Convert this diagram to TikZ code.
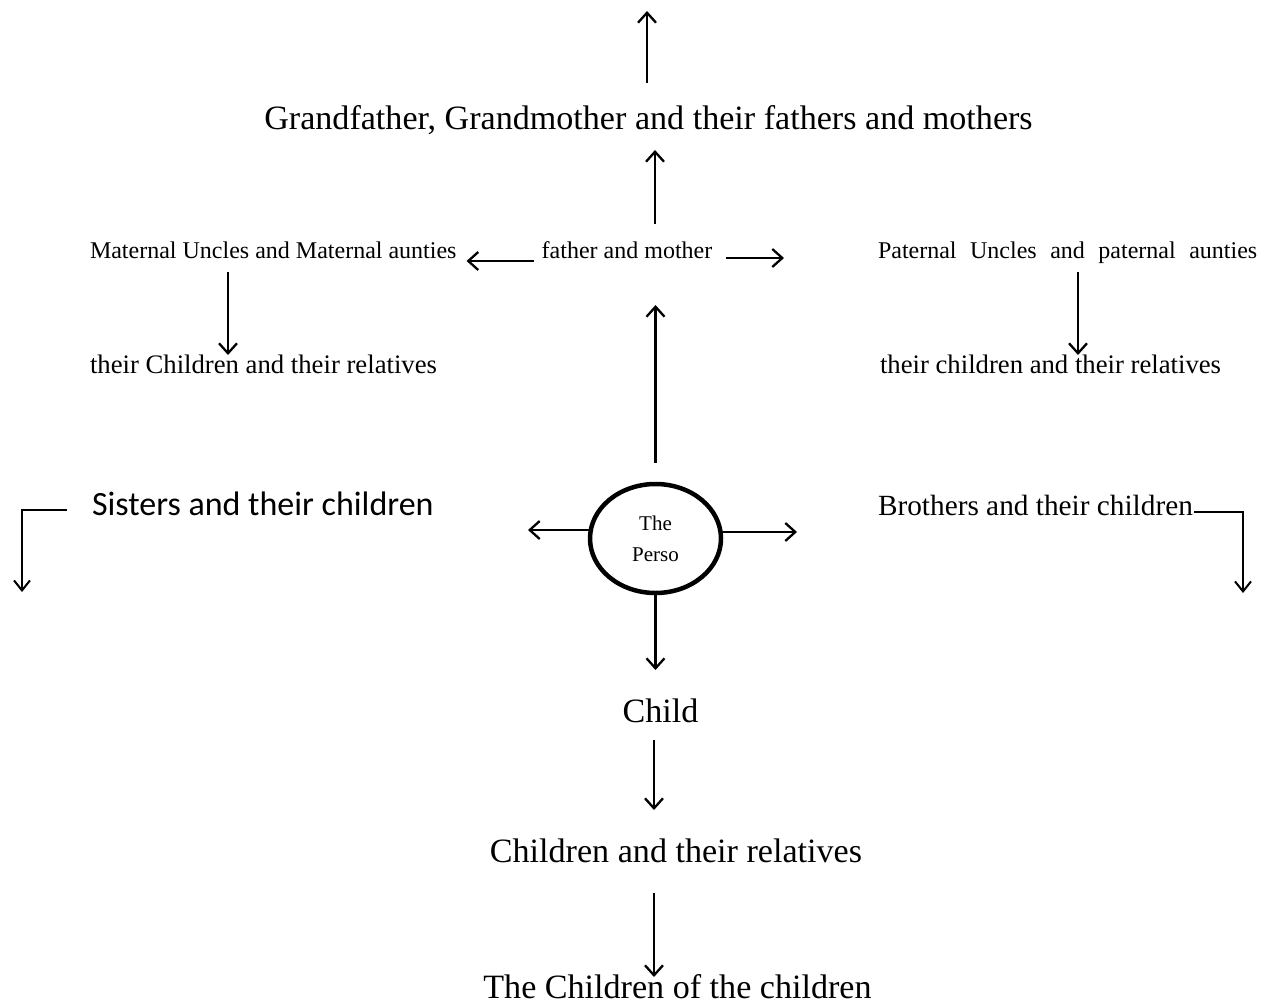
\documentclass[tikz,border=0pt]{standalone}
\usepackage{fontspec}
\setmainfont{Liberation Serif}
\newfontfamily\calib{Carlito}
\usetikzlibrary{arrows.meta,shapes.geometric}
\begin{document}
\begin{tikzpicture}[x=1pt,y=-1pt,
  every node/.style={inner sep=0pt, outer sep=0pt, text=black},
  arr/.style={-{Straight Barb[length=10pt,width=18pt,line width=2.3pt]}, line width=2.3pt},
  bentarr/.style={-{Straight Barb[length=10pt,width=16pt,line width=2pt]}, line width=2pt},
  big/.style={font=\fontsize{34.1}{38}\selectfont, anchor=base},
  mid/.style={font=\fontsize{24}{28}\selectfont},
  midb/.style={font=\fontsize{26.7}{30}\selectfont},
  bro/.style={font=\fontsize{29.3}{33}\selectfont},
  sis/.style={font=\calib\fontsize{34}{38}\selectfont},
  pers/.style={draw, ellipse, line width=4.5pt, minimum width=131pt, minimum height=109pt,
     font=\fontsize{21}{29}\selectfont, align=center}
]
\useasboundingbox (0,0) rectangle (1262,1004);
\fill[white] (0,0) rectangle (1262,1004);
\clip (0,0) rectangle (1262,1004);

% text nodes
\node[big] (gf) at (648.5,129) {Grandfather, Grandmother and their fathers and mothers};
\node[mid, anchor=base] (fm) at (627,258) {father and mother};
\node[mid, anchor=base west] (mu) at (90,258) {Maternal Uncles and Maternal aunties};
\node[midb, anchor=base west] (mc) at (90,373) {their Children and their relatives};
\node[mid, anchor=base west] (pu) at (878,258) {Paternal\hspace{13.5pt}Uncles\hspace{13.5pt}and\hspace{13.5pt}paternal\hspace{13.5pt}aunties};
\node[midb, anchor=base west] (pc) at (880,373) {their children and their relatives};
\node[sis, anchor=base west] (sis) at (92,515) {Sisters and their children};
\node[bro, anchor=base west] (bro) at (878,515) {Brothers and their children};
\node[pers] (p) at (655.5,538.5) {The\\[2pt]Perso};
\node[big] (ch) at (660.5,722) {Child};
\node[big] (cr) at (676,862) {Children and their relatives};
\node[big] (cc) at (677.5,998) {The Children of the children};

% free ends
\coordinate (top) at (647,11);
\coordinate (fmr) at (784,258);
\coordinate (pl) at (528,530);
\coordinate (pr) at (797,532);
\coordinate (sd) at (22,592);
\coordinate (bd) at (1243,593);

% connectors
\draw[arr] ([xshift=-1.5pt,yshift=46pt]gf.base) -- (top);
\draw[arr] ([xshift=28pt,yshift=34pt]fm.base) -- ([xshift=6.5pt,yshift=-21pt]gf.base);
\draw[arr] ([xshift=-8pt,yshift=-3pt]fm.base west) -- ([xshift=10pt,yshift=-3pt]mu.base east);
\draw[arr] ([xshift=14pt,yshift=0pt]fm.base east) -- (fmr);
\draw[arr] ([xshift=138pt,yshift=-14pt]mu.base west) -- ([xshift=138pt,yshift=18pt]mc.base west);
\draw[arr] ([xshift=200pt,yshift=-14pt]pu.base west) -- ([xshift=198pt,yshift=18pt]pc.base west);
\draw[arr] ([yshift=21pt]p.north) -- ([xshift=28.5pt,yshift=-47pt]fm.base);
\draw[arr] ([yshift=8.5pt]p.west) -- (pl);
\draw[arr] ([yshift=6.5pt]p.east) -- (pr);
\draw[arr] (p.south) -- ([xshift=-5pt,yshift=52pt]ch.base);
\draw[arr] ([xshift=-6.5pt,yshift=-18pt]ch.base) -- ([xshift=-22pt,yshift=52pt]cr.base);
\draw[arr] ([xshift=-22pt,yshift=-31pt]cr.base) -- ([xshift=-23.5pt,yshift=21pt]cc.base);
\draw[bentarr] ([xshift=-25pt,yshift=5pt]sis.base west) -| (sd);
\draw[bentarr] ([xshift=1pt,yshift=3pt]bro.base east) -| (bd);
\end{tikzpicture}
\end{document}
